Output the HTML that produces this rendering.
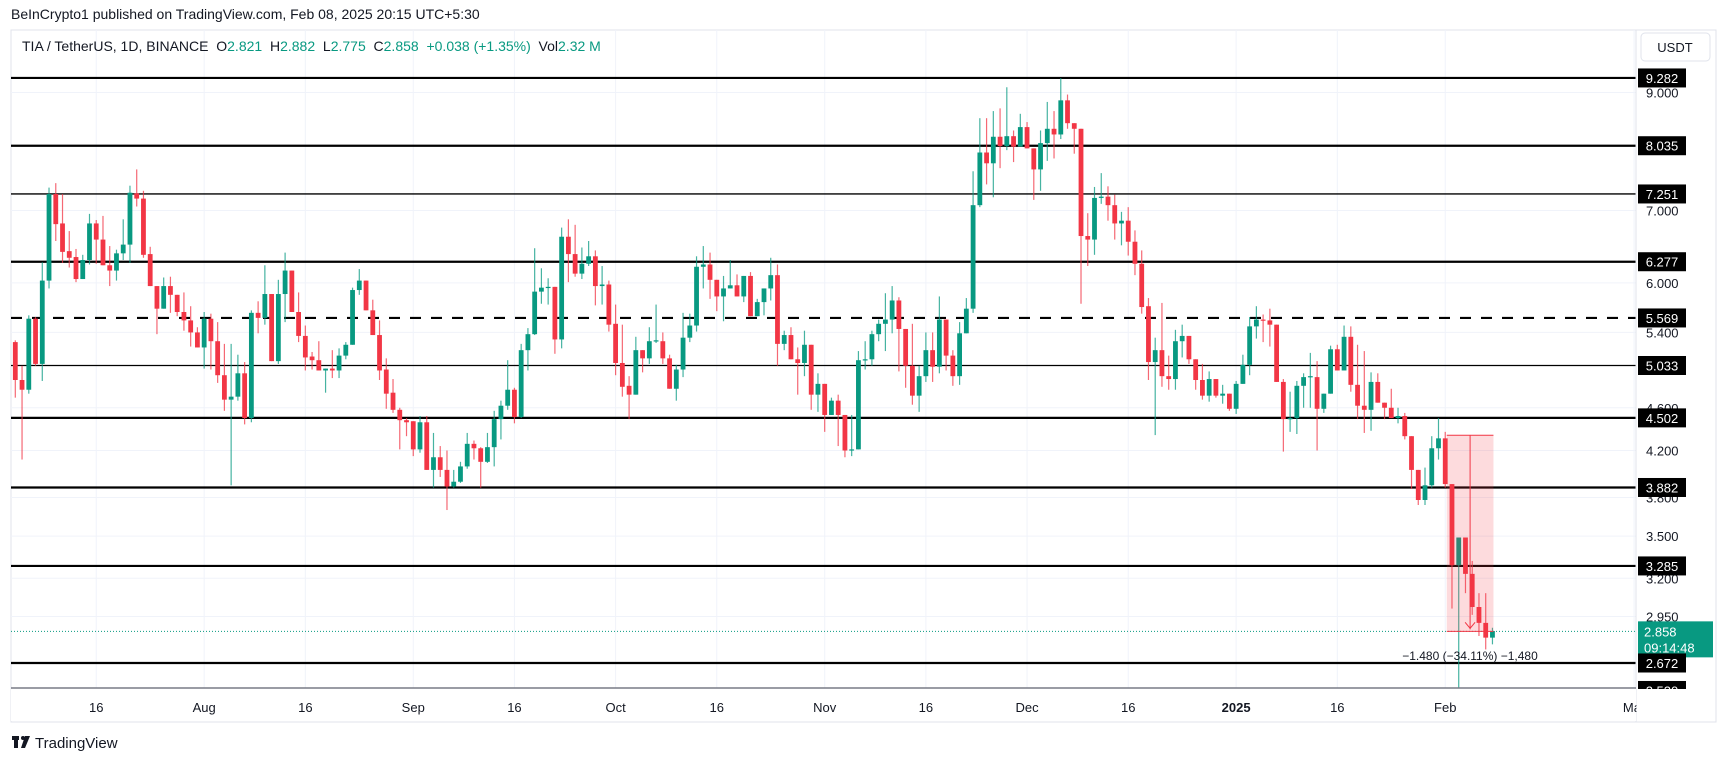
<!DOCTYPE html>
<html><head><meta charset="utf-8">
<style>
html,body{margin:0;padding:0;background:#fff;}
body{width:1727px;height:761px;overflow:hidden;font-family:"Liberation Sans",sans-serif;}
svg text{font-family:"Liberation Sans",sans-serif;}
</style></head>
<body>
<svg id="chart" width="1727" height="761" viewBox="0 0 1727 761" xmlns="http://www.w3.org/2000/svg">
  <rect x="0" y="0" width="1727" height="761" fill="#fff"/>
  <text x="11" y="19" font-size="14" fill="#131722">BeInCrypto1 published on TradingView.com, Feb 08, 2025 20:15 UTC+5:30</text>
  <rect x="11" y="30" width="1705" height="692" fill="none" stroke="#e0e3eb" stroke-width="1"/>
  <g id="grid"></g>
  <g id="levels"></g>
  <g id="candles"></g>
  <g id="measure"></g>
  <line x1="1636" y1="30" x2="1636" y2="722" stroke="#e0e3eb"/>
  <g id="yaxis"></g>
  <rect x="11" y="689" width="1625" height="32" fill="#fff"/>
  <line x1="11" y1="688" x2="1636" y2="688" stroke="#787b86" stroke-width="1.5"/>
  <g id="xaxis"></g>
  <text x="22" y="51" font-size="14" fill="#131722" style="white-space:pre" xml:space="preserve">TIA / TetherUS, 1D, BINANCE  O<tspan fill="#089981">2.821</tspan>  H<tspan fill="#089981">2.882</tspan>  L<tspan fill="#089981">2.775</tspan>  C<tspan fill="#089981">2.858</tspan>  <tspan fill="#089981">+0.038 (+1.35%)</tspan>  Vol<tspan fill="#089981">2.32 M</tspan></text>
  <rect x="1641" y="33" width="69" height="28" rx="4" fill="#fff" stroke="#e0e3eb"/>
  <text x="1675" y="52" font-size="13" fill="#131722" text-anchor="middle">USDT</text>
  <g>
    <rect x="12" y="736" width="7" height="4" fill="#131722"/><rect x="14" y="736" width="4" height="12" fill="#131722"/>
    <circle cx="23" cy="738" r="2" fill="#131722"/><polygon points="25,736 30,736 25,748 21,748" fill="#131722"/>
    <text x="35" y="748" font-size="15" fill="#131722">TradingView</text>
  </g>
</svg>
<script>
const opens=[5.29,4.88,4.78,5.56,5.05,6.03,7.25,6.81,6.42,6.34,6.05,6.30,6.81,6.58,6.23,6.16,6.39,6.51,7.26,7.18,6.38,5.96,5.68,5.96,5.85,5.64,5.54,5.40,5.23,5.56,5.30,4.93,4.68,4.71,4.95,4.50,5.63,5.57,5.86,5.08,5.86,6.16,5.64,5.36,5.13,5.09,4.98,5.00,4.98,5.14,5.26,5.91,6.03,5.66,5.37,4.99,4.75,4.58,4.48,4.47,4.21,4.46,4.03,4.14,4.03,3.89,3.93,4.06,4.26,4.22,4.10,4.23,4.49,4.62,4.78,4.51,5.20,5.38,5.89,5.94,5.95,5.32,6.62,6.38,6.12,6.25,6.35,5.96,5.98,5.50,5.06,4.82,4.73,5.20,5.11,5.30,5.30,5.11,4.79,4.99,5.34,5.48,6.21,6.24,6.04,5.83,5.93,5.97,5.83,6.09,5.59,5.76,5.93,6.10,5.27,5.37,5.10,5.06,5.26,4.73,4.84,4.53,4.67,4.53,4.20,4.21,5.09,5.10,5.38,5.50,5.55,5.78,5.44,5.03,4.72,4.92,5.20,5.02,5.55,5.14,4.92,5.39,5.68,7.08,7.92,7.74,8.19,8.03,8.20,8.02,8.36,7.99,7.64,8.08,8.33,8.23,8.85,8.43,8.33,6.63,6.58,7.19,7.21,7.08,6.81,6.85,6.55,6.25,5.71,5.07,5.20,4.92,4.89,5.30,5.36,5.10,4.88,4.72,4.89,4.72,4.74,4.59,4.84,5.04,5.47,5.55,5.54,5.49,4.86,4.49,4.50,4.82,4.91,4.91,4.59,4.74,5.21,4.98,5.35,4.83,4.62,4.58,4.86,4.65,4.60,4.50,4.52,4.33,4.03,3.78,3.90,4.22,4.31,3.91,3.29,3.49,3.23,3.01,2.91,2.82];
const highs=[5.31,5.03,5.60,5.58,6.27,7.35,7.42,7.25,6.70,6.45,6.37,6.95,6.86,6.92,6.49,6.44,6.87,7.38,7.64,7.30,6.48,5.96,6.07,6.08,5.85,5.88,5.71,5.46,5.64,5.62,5.52,5.27,5.27,5.15,5.07,5.66,5.77,6.23,5.86,6.04,6.40,6.16,5.88,5.48,5.18,5.30,5.00,5.20,5.22,5.29,5.94,6.18,6.03,5.79,5.54,5.11,4.89,4.60,4.50,4.47,4.52,4.52,4.36,4.24,4.20,4.03,4.10,4.36,4.29,4.23,4.36,4.57,4.67,5.09,4.80,5.27,5.45,6.46,6.19,6.06,5.95,6.75,6.87,6.79,6.47,6.56,6.43,6.22,6.03,5.73,5.49,4.92,5.35,5.20,5.46,5.73,5.40,5.15,5.04,5.63,5.62,6.35,6.49,6.40,6.04,6.09,6.30,6.11,6.09,6.14,5.80,5.93,6.33,6.24,5.42,5.46,5.23,5.42,5.26,4.95,4.84,4.70,4.73,4.53,4.53,5.19,5.30,5.42,5.55,5.87,5.96,5.82,5.44,5.50,5.03,5.40,5.40,5.83,5.55,5.20,5.52,5.81,7.61,8.52,8.52,8.65,8.70,9.10,8.30,8.60,8.45,7.99,8.30,8.82,8.65,9.28,8.96,8.43,8.33,6.96,7.36,7.58,7.37,7.24,6.98,7.05,6.71,6.43,5.81,5.34,5.75,5.14,5.43,5.49,5.36,5.10,5.05,4.97,4.89,4.83,4.74,4.87,5.15,5.58,5.71,5.61,5.68,5.49,4.89,4.76,4.87,4.95,5.17,5.08,4.74,5.25,5.26,5.48,5.47,5.26,5.19,4.96,4.95,4.65,4.79,4.60,4.55,4.33,4.03,4.05,4.33,4.50,4.37,3.91,3.49,3.49,3.32,3.10,3.10,2.88];
const lows=[4.70,4.12,4.74,5.03,4.87,5.93,6.56,6.26,6.20,6.01,6.05,6.24,6.25,6.23,5.96,6.03,6.30,6.26,7.06,6.33,5.96,5.38,5.68,5.63,5.59,5.42,5.24,5.23,5.00,4.99,4.85,4.57,3.90,4.67,4.44,4.46,5.39,5.49,5.08,5.05,5.52,5.64,5.29,4.98,4.99,4.98,4.75,4.90,4.90,5.10,5.26,5.85,5.66,5.37,4.88,4.59,4.55,4.21,4.33,4.15,4.18,4.03,3.88,3.97,3.70,3.88,3.92,4.04,4.12,3.88,4.09,4.06,4.30,4.58,4.45,4.50,4.98,5.37,5.74,5.73,5.16,5.22,6.01,6.08,6.05,6.22,5.72,5.73,5.41,4.93,4.71,4.49,4.73,4.96,5.05,5.28,5.05,4.79,4.67,4.91,5.29,5.41,5.93,5.80,5.65,5.53,5.93,5.83,5.76,5.59,5.59,5.60,5.78,5.03,5.20,5.10,4.73,4.92,4.58,4.56,4.37,4.53,4.24,4.14,4.15,4.21,4.99,5.03,5.30,5.19,5.39,4.97,4.80,4.63,4.56,4.86,4.86,4.95,4.98,4.82,4.83,5.39,5.63,7.05,7.40,7.20,7.66,7.96,7.76,8.02,7.99,7.16,7.30,7.78,7.82,8.15,8.33,7.90,5.74,6.22,6.37,7.10,6.85,6.58,6.50,6.36,6.10,5.62,4.88,4.34,4.81,4.78,4.78,5.12,5.05,4.78,4.68,4.66,4.70,4.64,4.57,4.54,4.84,4.93,5.33,5.29,5.24,4.86,4.19,4.37,4.35,4.60,4.60,4.20,4.55,4.74,4.98,4.98,4.76,4.49,4.36,4.38,4.65,4.49,4.50,4.45,4.30,3.87,3.74,3.74,3.88,4.12,3.88,3.00,2.53,3.10,2.96,2.83,2.75,2.78];
const closes=[4.88,4.78,5.56,5.05,6.03,7.25,6.80,6.41,6.33,6.05,6.30,6.81,6.58,6.23,6.16,6.39,6.51,7.27,7.18,6.37,5.96,5.68,5.96,5.85,5.64,5.54,5.40,5.23,5.56,5.30,4.93,4.68,4.71,4.95,4.50,5.63,5.57,5.86,5.08,5.86,6.16,5.64,5.36,5.12,5.09,4.98,5.00,4.98,5.14,5.26,5.91,6.03,5.66,5.37,4.98,4.74,4.58,4.48,4.46,4.21,4.46,4.03,4.14,4.03,3.89,3.93,4.06,4.26,4.22,4.10,4.23,4.49,4.62,4.78,4.51,5.20,5.38,5.89,5.94,5.95,5.32,6.62,6.38,6.12,6.25,6.35,5.96,5.98,5.49,5.06,4.81,4.73,5.20,5.11,5.30,5.31,5.11,4.79,4.99,5.34,5.48,6.21,6.24,6.04,5.83,5.93,5.97,5.83,6.09,5.59,5.76,5.93,6.10,5.27,5.37,5.10,5.06,5.26,4.73,4.84,4.53,4.67,4.53,4.20,4.21,5.09,5.10,5.38,5.50,5.55,5.78,5.44,5.03,4.72,4.92,5.20,5.02,5.55,5.14,4.92,5.39,5.68,7.08,7.92,7.74,8.19,8.03,8.20,8.02,8.36,7.99,7.64,8.08,8.33,8.23,8.85,8.43,8.33,6.63,6.58,7.19,7.21,7.08,6.81,6.85,6.55,6.25,5.70,5.07,5.20,4.92,4.89,5.30,5.36,5.10,4.88,4.72,4.89,4.72,4.74,4.59,4.84,5.04,5.47,5.55,5.54,5.49,4.86,4.49,4.50,4.82,4.91,4.92,4.59,4.74,5.21,4.98,5.35,4.83,4.62,4.58,4.86,4.65,4.60,4.50,4.52,4.33,4.03,3.78,3.90,4.22,4.31,3.91,3.29,3.49,3.23,3.01,2.91,2.82,2.86];
const levelValues=[9.282,8.035,7.251,6.277,5.569,5.033,4.502,3.882,3.285,2.672];
const levelLabels=["9.282","8.035","7.251","6.277","5.569","5.033","4.502","3.882","3.285","2.672"];
const tickValues=[9.0,7.0,6.0,5.4,4.6,4.2,3.8,3.5,3.2,2.95];
const tickLabels=["9.000","7.000","6.000","5.400","4.600","4.200","3.800","3.500","3.200","2.950"];
const lowTagValue=2.52, lowTagLabel="2.520";
const dateIndex=[12,28,43,59,74,89,104,120,135,150,165,181,196,212,240];
const dateLabels=["16","Aug","16","Sep","16","Oct","16","Nov","16","Dec","16","2025","16","Feb","Mar"];
const lastPrice=2.858;
const measureStart=212, measureEnd=219, measureHigh=4.338, measureLow=2.858;

const NS="http://www.w3.org/2000/svg";
function yS(p){return 1124.7-469.8*Math.log(p);}
function xS(i){return 15.3+i*6.745;}
function mk(tag,attrs,parent){const e=document.createElementNS(NS,tag);for(const k in attrs)e.setAttribute(k,attrs[k]);parent.appendChild(e);return e;}

const grid=document.getElementById('grid');
tickValues.forEach((v,i)=>{const l=mk('line',{x1:11,x2:1636,y1:yS(v),y2:yS(v),stroke:'#f0f3fa','stroke-width':1},grid);

});
dateIndex.forEach((d,i)=>{const l=mk('line',{x1:xS(d),x2:xS(d),y1:30,y2:688,stroke:'#f0f3fa','stroke-width':1},grid);

});

const lv=document.getElementById('levels');
const thin={"7.251":1,"5.033":1};
levelValues.forEach((v,i)=>{const y=yS(v);
const a={x1:11,x2:1636,y1:y,y2:y,stroke:'#000','stroke-width':thin[levelLabels[i]]?1.3:2.2};
if(levelLabels[i]==="5.569"){a['stroke-dasharray']='11 10';}
const l=mk('line',a,lv);

});
const pl=mk('line',{x1:11,x2:1636,y1:yS(lastPrice),y2:yS(lastPrice),stroke:'#089981','stroke-width':1,'stroke-dasharray':'1 2'},lv);



const cg=document.getElementById('candles');
for(let i=0;i<closes.length;i++){
 const o=opens[i],c=closes[i],h=Math.max(highs[i],o,c),lo=Math.min(lows[i],o,c);
 const col=c>=o?'#089981':'#f23645';const x=xS(i);
 const w=mk('line',{x1:x,x2:x,y1:yS(h),y2:Math.min(688,yS(lo)),stroke:col,'stroke-width':1.2,'stroke-opacity':0.75},cg);
 
 
 const yt=yS(Math.max(o,c)),yb=yS(Math.min(o,c));
 const b=mk('rect',{x:x-2.4,y:yt,width:4.8,height:Math.max(1.2,yb-yt),fill:col},cg);
 
 
}

const mg=document.getElementById('measure');
const mx1=xS(measureStart)+1.5,mx2=xS(measureEnd)+1,my1=yS(measureHigh),my2=yS(measureLow);
const mr=mk('rect',{x:mx1,y:my1,width:mx2-mx1,height:my2-my1,fill:'rgba(242,54,69,0.18)'},mg);


[my1,my2].forEach(y=>{const l=mk('line',{x1:mx1,x2:mx2,y1:y,y2:y,stroke:'#f23645','stroke-width':1},mg);

});
const axm=(mx1+mx2)/2;
const ar=mk('line',{x1:axm,x2:axm,y1:my1,y2:my2-2,stroke:'#f23645','stroke-width':1},mg);


const ah=mk('polyline',{points:(axm-5)+','+(my2-9)+' '+axm+','+(my2-3)+' '+(axm+5)+','+(my2-9),fill:'none',stroke:'#f23645','stroke-width':1},mg);


const mt=mk('text',{x:1470,y:660,'font-size':12,fill:'#131722','text-anchor':'middle'},mg);
mt.textContent='\u22121.480 (\u221234.11%) \u22121,480';



const ya=document.getElementById('yaxis');
tickValues.forEach((v,i)=>{const t=mk('text',{x:1646,y:yS(v)+5,'font-size':13,fill:'#131722'},ya);t.textContent=tickLabels[i];

});
const lowR=mk('rect',{x:1638,y:yS(lowTagValue)-9.5,width:48,height:19,fill:'#000'},ya);


const lowT=mk('text',{x:1662,y:yS(lowTagValue)+5,'font-size':13,fill:'#fff','text-anchor':'middle'},ya);lowT.textContent=lowTagLabel;


levelValues.forEach((v,i)=>{const y=yS(v);
const r=mk('rect',{x:1638,y:y-9.5,width:48,height:19,fill:'#000'},ya);


const t=mk('text',{x:1662,y:y+5,'font-size':13,fill:'#fff','text-anchor':'middle'},ya);t.textContent=levelLabels[i];

});
const by=yS(lastPrice);
const gr=mk('rect',{x:1638,y:by-10,width:75,height:36,fill:'#089981'},ya);


const gt=mk('text',{x:1644,y:by+5,'font-size':13,fill:'#fff'},ya);gt.textContent='2.858';


const ct=mk('text',{x:1644,y:by+21,'font-size':13,fill:'#fff'},ya);ct.textContent='09:14:48';


const lr=mk('rect',{x:1638,y:yS(2.672)-9.5,width:48,height:19,fill:'#000'},ya);


const lt=mk('text',{x:1662,y:yS(2.672)+5,'font-size':13,fill:'#fff','text-anchor':'middle'},ya);lt.textContent='2.672';


const cover=mk('rect',{x:1636.5,y:689,width:79,height:32.5,fill:'#fff'},ya);



const xa=document.getElementById('xaxis');
dateIndex.forEach((d,i)=>{const t=mk('text',{x:xS(d),y:712,'font-size':13,fill:'#131722','text-anchor':'middle','font-weight':dateLabels[i]==='2025'?'bold':'normal'},xa);
t.textContent=dateLabels[i];

});
const xc=mk('rect',{x:1636.5,y:689,width:79,height:32,fill:'#fff'},xa);


</script>
</body></html>
